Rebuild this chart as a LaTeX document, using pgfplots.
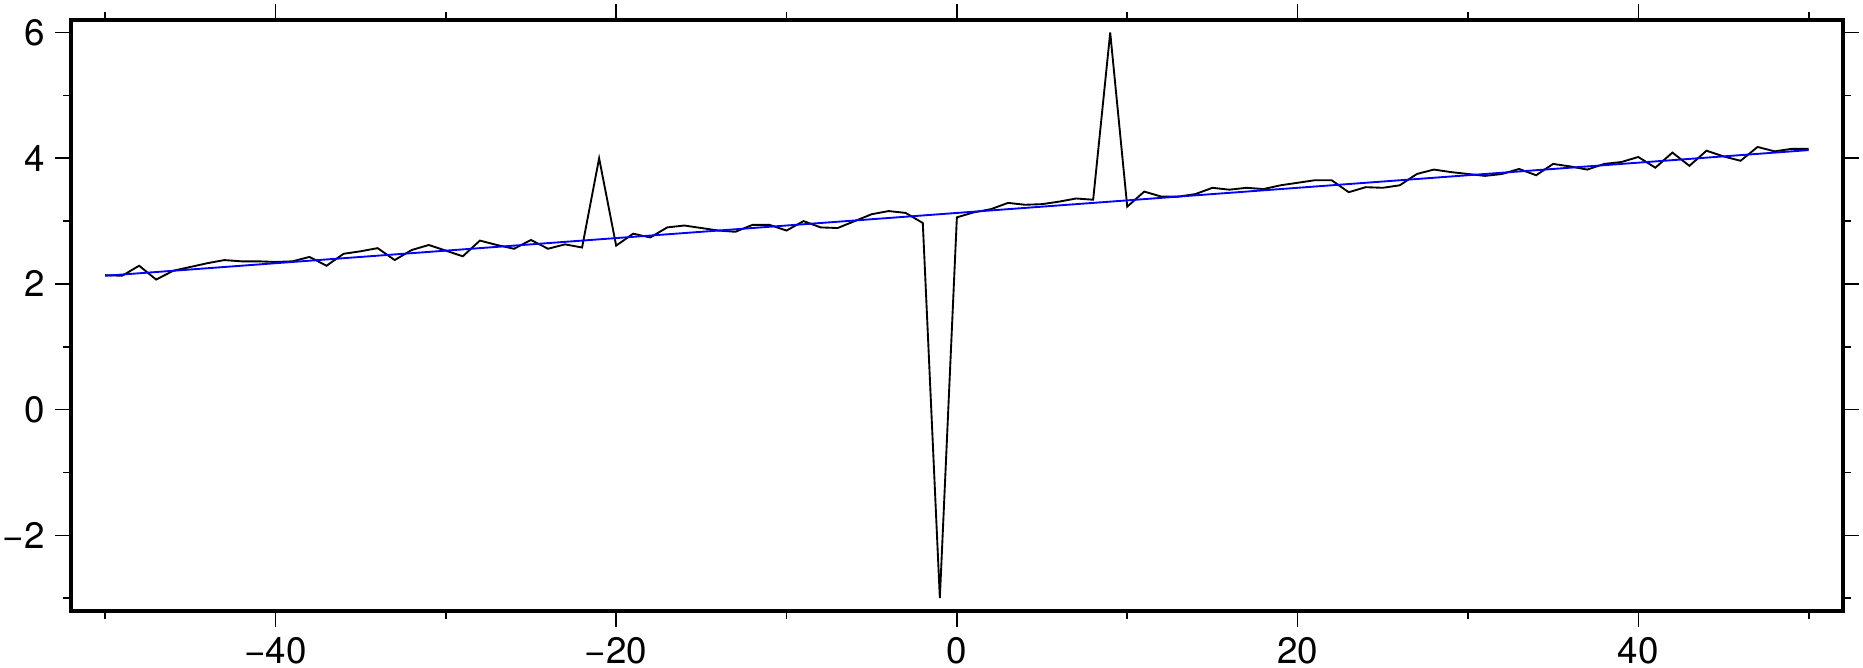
\documentclass[border=0pt]{standalone}
\usepackage{pgfplots}
\pgfplotsset{compat=1.18}
\usepackage{fontspec}
\setmainfont{TeX Gyre Heros}
\pgfplotstableread{
x y
-50 2.14
-49 2.13
-48 2.29
-47 2.07
-46 2.21
-45 2.27
-44 2.33
-43 2.38
-42 2.36
-41 2.36
-40 2.35
-39 2.36
-38 2.43
-37 2.29
-36 2.48
-35 2.52
-34 2.57
-33 2.38
-32 2.54
-31 2.62
-30 2.53
-29 2.44
-28 2.69
-27 2.62
-26 2.56
-25 2.70
-24 2.56
-23 2.63
-22 2.58
-21 4.00
-20 2.61
-19 2.80
-18 2.74
-17 2.90
-16 2.93
-15 2.89
-14 2.85
-13 2.83
-12 2.94
-11 2.94
-10 2.85
-9 3.00
-8 2.90
-7 2.89
-6 3.00
-5 3.11
-4 3.16
-3 3.13
-2 2.97
-1 -3.00
0 3.06
1 3.14
2 3.19
3 3.29
4 3.26
5 3.27
6 3.31
7 3.36
8 3.34
9 6.00
10 3.23
11 3.47
12 3.39
13 3.39
14 3.43
15 3.53
16 3.50
17 3.53
18 3.51
19 3.57
20 3.61
21 3.65
22 3.65
23 3.46
24 3.54
25 3.53
26 3.57
27 3.75
28 3.82
29 3.78
30 3.75
31 3.72
32 3.75
33 3.83
34 3.73
35 3.91
36 3.87
37 3.82
38 3.91
39 3.94
40 4.02
41 3.85
42 4.09
43 3.88
44 4.12
45 4.03
46 3.96
47 4.18
48 4.11
49 4.15
50 4.15
}\datatable
\pgfplotstableread{
x y
-50 2.13
50 4.13
}\fittable
\begin{document}
\begin{tikzpicture}
\begin{axis}[
  name=ax,
  scale only axis,
  width=708.7pt, height=236.3pt,
  xmin=-52, xmax=52, ymin=-3.2, ymax=6.2,
  axis line style={line width=1.6pt},
  tick align=outside,
  xtick pos=both, ytick pos=both,
  xticklabel pos=bottom, yticklabel pos=left,
  xtick={-40,-20,0,20,40},
  xticklabels={−40,−20,0,20,40},
  minor xtick={-50,-30,-10,10,30,50},
  ytick={-2,0,2,4,6},
  yticklabels={−2,0,2,4,6},
  minor ytick={-3,-1,1,3,5},
  major tick length=6.4pt,
  minor tick length=3.3pt,
  every tick/.style={black, line width=0.65pt},
  every minor tick/.style={black, line width=0.65pt},
  tick label style={font=\fontsize{14.7pt}{17pt}\selectfont},
  xticklabel style={yshift=-0.8pt},
  yticklabel style={xshift=-0.6pt},
  clip=true,
]
\addplot[black, line width=0.75pt, line join=miter] table[x=x,y=y] {\datatable};
\addplot[blue, line width=0.75pt] table[x=x,y=y] {\fittable};
\end{axis}
\pgfresetboundingbox
\path[use as bounding box] ([shift={(-28.4pt,-22.9pt)}]ax.south west) rectangle ([shift={(716.8pt,244.3pt)}]ax.south west);
\end{tikzpicture}
\end{document}
